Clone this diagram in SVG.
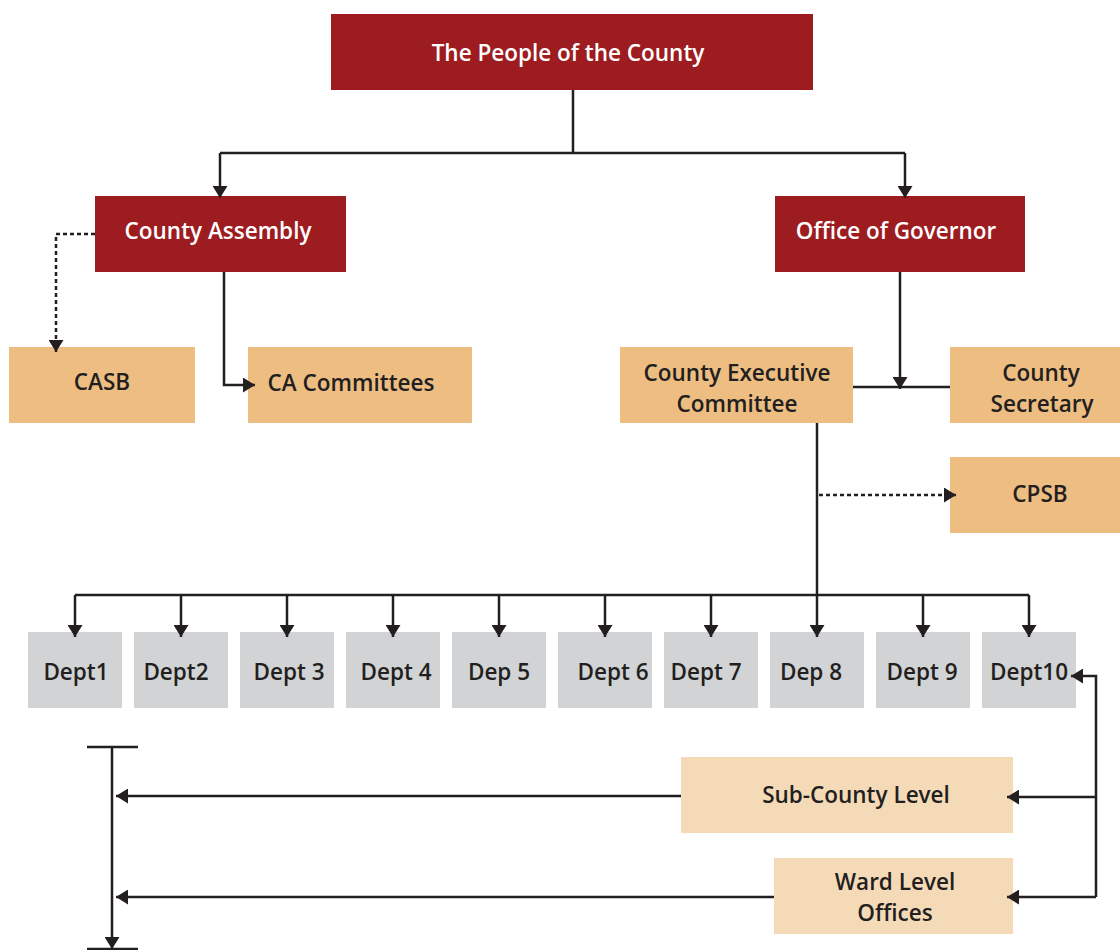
<svg xmlns="http://www.w3.org/2000/svg" width="1120" height="950" viewBox="0 0 1120 950">
<style>
.red{fill:#9d1c20}
.org{fill:#edbd82}
.lt{fill:#f5dab8}
.gr{fill:#d1d3d4}
text{font-family:"Open Sans","Noto Sans","Liberation Sans",sans-serif;font-weight:600;font-size:22.5px;text-anchor:middle;fill:#231f20}
text.w{fill:#ffffff}
.ln{fill:none;stroke:#231f20;stroke-width:2.5}
.dl{fill:none;stroke:#231f20;stroke-width:2.5;stroke-dasharray:4 3}
</style>
<defs>
<marker id="ah" markerUnits="userSpaceOnUse" markerWidth="15" markerHeight="15" viewBox="0 0 15 15" refX="12" refY="7.5" orient="auto">
<path d="M0,0 L12,7.5 L0,15 Z" fill="#231f20"/>
</marker>
</defs>
<rect width="1120" height="950" fill="#ffffff"/>
<g id="people"><rect class="red" x="331" y="14" width="482" height="76"/><text class="w" x="568" y="61">The People of the County</text></g>
<g id="assembly"><rect class="red" x="95" y="196" width="251" height="76"/><text class="w" x="218" y="239">County Assembly</text></g>
<g id="governor"><rect class="red" x="775" y="196" width="250" height="76"/><text class="w" x="896" y="239">Office of Governor</text></g>
<g id="casb"><rect class="org" x="9" y="347" width="186" height="76"/><text x="102" y="390">CASB</text></g>
<g id="cacommittees"><rect class="org" x="248" y="347" width="224" height="76"/><text x="351" y="391">CA Committees</text></g>
<g id="cec"><rect class="org" x="620" y="347" width="233" height="76"/><text x="737" y="381">County Executive</text><text x="737" y="412">Committee</text></g>
<g id="secretary"><rect class="org" x="950" y="347" width="170" height="76"/><text x="1041" y="381">County</text><text x="1042" y="412">Secretary</text></g>
<g id="cpsb"><rect class="org" x="950" y="457" width="170" height="76"/><text x="1040" y="502">CPSB</text></g>
<g id="dept1"><rect class="gr" x="28" y="632" width="94" height="76"/><text x="76" y="680">Dept1</text></g>
<g id="dept2"><rect class="gr" x="134" y="632" width="94" height="76"/><text x="176" y="680">Dept2</text></g>
<g id="dept3"><rect class="gr" x="240" y="632" width="94" height="76"/><text x="289" y="680">Dept 3</text></g>
<g id="dept4"><rect class="gr" x="346" y="632" width="94" height="76"/><text x="396" y="680">Dept 4</text></g>
<g id="dept5"><rect class="gr" x="452" y="632" width="94" height="76"/><text x="499" y="680">Dep 5</text></g>
<g id="dept6"><rect class="gr" x="558" y="632" width="94" height="76"/><text x="613" y="680">Dept 6</text></g>
<g id="dept7"><rect class="gr" x="664" y="632" width="94" height="76"/><text x="706" y="680">Dept 7</text></g>
<g id="dept8"><rect class="gr" x="770" y="632" width="94" height="76"/><text x="811" y="680">Dep 8</text></g>
<g id="dept9"><rect class="gr" x="876" y="632" width="94" height="76"/><text x="922" y="680">Dept 9</text></g>
<g id="dept10"><rect class="gr" x="982" y="632" width="94" height="76"/><text x="1029" y="680">Dept10</text></g>
<g id="subcounty"><rect class="lt" x="681" y="757" width="332" height="76"/><text x="856" y="803">Sub-County Level</text></g>
<g id="ward"><rect class="lt" x="774" y="858" width="239" height="76"/><text x="895" y="890">Ward Level</text><text x="895" y="921">Offices</text></g>
<g id="connectors">
<path class="ln" d="M573,90 V153"/>
<path class="ln" stroke-width="2" d="M220,153 H905"/>
<path class="ln" stroke-width="2" marker-end="url(#ah)" d="M220,153 V198"/>
<path class="ln" stroke-width="2" marker-end="url(#ah)" d="M905,153 V198"/>
<path class="dl" marker-end="url(#ah)" d="M95,234 H56 V352"/>
<path class="ln" marker-end="url(#ah)" d="M224,272 V385 H255"/>
<path class="ln" d="M853,387 H950"/>
<path class="ln" marker-end="url(#ah)" d="M900,272 V389"/>
<path class="ln" d="M817,423 V595"/>
<path class="dl" marker-end="url(#ah)" d="M819,495 H956"/>
<path class="ln" d="M75,595 H1029"/>
<path class="ln" marker-end="url(#ah)" d="M75,595 V637"/>
<path class="ln" marker-end="url(#ah)" d="M181,595 V637"/>
<path class="ln" marker-end="url(#ah)" d="M287,595 V637"/>
<path class="ln" marker-end="url(#ah)" d="M393,595 V637"/>
<path class="ln" marker-end="url(#ah)" d="M499,595 V637"/>
<path class="ln" marker-end="url(#ah)" d="M605,595 V637"/>
<path class="ln" marker-end="url(#ah)" d="M711,595 V637"/>
<path class="ln" marker-end="url(#ah)" d="M817,595 V637"/>
<path class="ln" marker-end="url(#ah)" d="M923,595 V637"/>
<path class="ln" marker-end="url(#ah)" d="M1029,595 V637"/>
<path class="ln" marker-end="url(#ah)" d="M1096,797 V676 H1071"/>
<path class="ln" d="M1096,797 V897"/>
<path class="ln" marker-end="url(#ah)" d="M1096,797 H1007"/>
<path class="ln" marker-end="url(#ah)" d="M1096,897 H1007"/>
<path class="ln" marker-end="url(#ah)" d="M681,796 H116"/>
<path class="ln" marker-end="url(#ah)" d="M774,897 H116"/>
<path class="ln" d="M87,747 H138"/>
<path class="ln" d="M87,949 H138"/>
<path class="ln" marker-end="url(#ah)" d="M112,747 V949"/>
</g>
</svg>
